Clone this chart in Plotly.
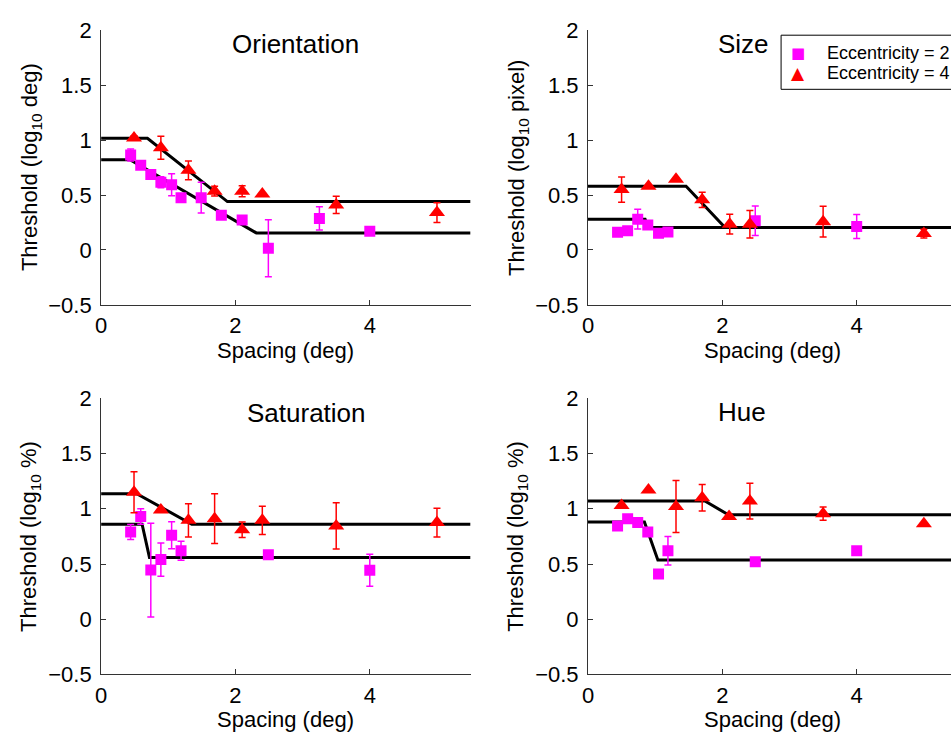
import plotly.graph_objects as go

# ---------------- data ----------------
# Orientation
or_x2 = [0.44, 0.59, 0.74, 0.89, 1.05, 1.19, 1.49, 1.79, 2.10, 2.49, 3.25, 4.0]
or_y2 = [0.865, 0.77, 0.687, 0.617, 0.594, 0.476, 0.476, 0.316, 0.272, 0.015, 0.287, 0.17]
or_e2 = [0.055, 0.0, 0.0, 0.05, 0.1, 0.03, 0.14, 0.035, 0.0, 0.26, 0.105, 0.0]
or_x4 = [0.49, 0.89, 1.30, 1.69, 2.10, 2.40, 3.50, 5.0]
or_y4 = [1.02, 0.93, 0.725, 0.535, 0.535, 0.51, 0.41, 0.34]
or_e4 = [0.02, 0.105, 0.085, 0.045, 0.05, 0.0, 0.078, 0.09]
or_fit2_x = [0, 0.43, 2.31, 5.5]
or_fit2_y = [0.822, 0.822, 0.155, 0.155]
or_fit4_x = [0, 0.69, 1.88, 5.5]
or_fit4_y = [1.017, 1.017, 0.44, 0.44]

# Size
sz_x2 = [0.44, 0.59, 0.74, 0.89, 1.05, 1.19, 2.49, 4.0]
sz_y2 = [0.16, 0.175, 0.28, 0.228, 0.152, 0.164, 0.266, 0.213]
sz_e2 = [0.0, 0.015, 0.09, 0.0, 0.0, 0.03, 0.135, 0.11]
sz_x4 = [0.50, 0.90, 1.31, 1.70, 2.11, 2.41, 3.50, 5.0]
sz_y4 = [0.55, 0.58, 0.643, 0.456, 0.234, 0.234, 0.257, 0.149]
sz_e4 = [0.115, 0.0, 0.0, 0.07, 0.09, 0.125, 0.14, 0.04]
sz_fit2_x = [0, 0.85, 0.9, 5.5]
sz_fit2_y = [0.28, 0.28, 0.204, 0.204]
sz_fit4_x = [0, 1.46, 2.04, 5.5]
sz_fit4_y = [0.58, 0.58, 0.204, 0.204]

# Saturation
sa_x2 = [0.44, 0.59, 0.74, 0.89, 1.05, 1.19, 2.49, 4.0]
sa_y2 = [0.79, 0.93, 0.445, 0.54, 0.76, 0.62, 0.583, 0.443]
sa_e2 = [0.068, 0.07, 0.425, 0.15, 0.122, 0.085, 0.0, 0.145]
sa_x4 = [0.49, 0.89, 1.30, 1.69, 2.10, 2.40, 3.50, 5.0]
sa_y4 = [1.15, 0.99, 0.895, 0.91, 0.81, 0.895, 0.845, 0.875]
sa_e4 = [0.185, 0.0, 0.15, 0.225, 0.07, 0.128, 0.21, 0.13]
sa_fit2_x = [0, 0.61, 0.72, 5.5]
sa_fit2_y = [0.86, 0.86, 0.56, 0.56]
sa_fit4_x = [0, 0.53, 1.35, 5.5]
sa_fit4_y = [1.137, 1.137, 0.86, 0.86]

# Hue
hu_x2 = [0.44, 0.59, 0.74, 0.89, 1.05, 1.19, 2.49, 4.0]
hu_y2 = [0.845, 0.91, 0.875, 0.79, 0.41, 0.62, 0.52, 0.62]
hu_e2 = [0.0, 0.0, 0.0, 0.0, 0.0, 0.13, 0.0, 0.0]
hu_x4 = [0.50, 0.90, 1.31, 1.70, 2.10, 2.41, 3.50, 5.0]
hu_y4 = [1.03, 1.17, 1.02, 1.10, 0.93, 1.07, 0.955, 0.865]
hu_e4 = [0.0, 0.0, 0.235, 0.12, 0.0, 0.162, 0.06, 0.0]
hu_fit2_x = [0, 0.84, 1.04, 5.5]
hu_fit2_y = [0.88, 0.88, 0.537, 0.537]
hu_fit4_x = [0, 1.74, 2.09, 5.5]
hu_fit4_y = [1.07, 1.07, 0.946, 0.946]

panel_titles = ["Orientation", "Size", "Saturation", "Hue"]
y_units = ["deg", "pixel", "%", "%"]
legend_names = ["Eccentricity = 2", "Eccentricity = 4"]
x_label = "Spacing (deg)"

panels = [
    (or_x2, or_y2, or_e2, or_x4, or_y4, or_e4, or_fit2_x, or_fit2_y, or_fit4_x, or_fit4_y),
    (sz_x2, sz_y2, sz_e2, sz_x4, sz_y4, sz_e4, sz_fit2_x, sz_fit2_y, sz_fit4_x, sz_fit4_y),
    (sa_x2, sa_y2, sa_e2, sa_x4, sa_y4, sa_e4, sa_fit2_x, sa_fit2_y, sa_fit4_x, sa_fit4_y),
    (hu_x2, hu_y2, hu_e2, hu_x4, hu_y4, hu_e4, hu_fit2_x, hu_fit2_y, hu_fit4_x, hu_fit4_y),
]

# ---------------- layout geometry ----------------
W, H = 951, 745
FONT = "Liberation Sans, Arial, Helvetica, sans-serif"
MAG = "#FF00FF"
RED = "#FF0000"
PXU = 67.6  # pixels per x unit

col_left = [95.7, 585.7]
row_px = [(18.9, 303.0), (399.7, 685.5)]


def yd(top, bottom):
    return [(H - bottom) / H, (H - top) / H]


def px(xp):
    return xp / W


def py(yp):
    return (H - yp) / H


fig = go.Figure()
annotations = []
title_cx = [291, 742, 302, 741]
title_cy = [33, 33, 415, 414]

for i, p in enumerate(panels):
    x2, y2, e2, x4, y4, e4, f2x, f2y, f4x, f4y = p
    r, c = divmod(i, 2)
    n = i + 1
    xa = "x" if n == 1 else f"x{n}"
    ya = "y" if n == 1 else f"y{n}"
    for fx, fy in ((f2x, f2y), (f4x, f4y)):
        fig.add_trace(go.Scatter(x=fx, y=fy, mode="lines",
                                 line=dict(color="black", width=3),
                                 showlegend=False, hoverinfo="skip",
                                 xaxis=xa, yaxis=ya))
    fig.add_trace(go.Scatter(
        x=x2, y=y2, mode="markers", name=legend_names[0],
        marker=dict(symbol="square", size=11, color=MAG),
        error_y=dict(type="data", array=e2, color=MAG, thickness=1.5, width=3.5),
        showlegend=False, xaxis=xa, yaxis=ya))
    fig.add_trace(go.Scatter(
        x=x4, y=y4, mode="markers", name=legend_names[1],
        marker=dict(symbol="triangle-up", size=14, color=RED),
        error_y=dict(type="data", array=e4, color=RED, thickness=1.5, width=3.5),
        showlegend=False, xaxis=xa, yaxis=ya))

    axis_common = dict(showline=True, linecolor="#333", linewidth=1, mirror=False,
                       ticks="inside", ticklen=5, tickcolor="#333", tickwidth=1,
                       showgrid=False, zeroline=False,
                       tickfont=dict(family=FONT, size=22, color="black"))
    xkey = "xaxis" if n == 1 else f"xaxis{n}"
    ykey = "yaxis" if n == 1 else f"yaxis{n}"
    left = col_left[c]
    right = min(left + 5.5 * PXU, W)
    xmax = (right - left) / PXU
    fig.layout[xkey] = dict(domain=[left / W, right / W], range=[0, xmax],
                            tickvals=[0, 2, 4], ticktext=["0", "2", "4"],
                            anchor=ya, ticklabelstandoff=1, **axis_common)
    fig.layout[ykey] = dict(domain=yd(*row_px[r]), range=[-0.5, 2],
                            tickvals=[-0.5, 0, 0.5, 1, 1.5, 2],
                            ticktext=["\u22120.5", "0", "0.5", "1", "1.5", "2"],
                            anchor=xa, ticklabelstandoff=4, **axis_common)

    annotations.append(dict(text=panel_titles[i], x=px(title_cx[i]), y=py(title_cy[i]),
                            xref="paper", yref="paper", showarrow=False,
                            xanchor="center", yanchor="middle",
                            font=dict(family=FONT, size=26, color="black")))
    annotations.append(dict(text=x_label, x=px(left + 186),
                            y=py(row_px[r][1] + 47),
                            xref="paper", yref="paper", showarrow=False,
                            xanchor="center", yanchor="middle",
                            font=dict(family=FONT, size=22, color="black")))
    annotations.append(dict(text=f"Threshold (log<sub>10</sub> {y_units[i]})",
                            x=px(left - 71),
                            y=py((row_px[r][0] + row_px[r][1]) / 2),
                            xref="paper", yref="paper", showarrow=False, textangle=-90,
                            xanchor="center", yanchor="middle",
                            font=dict(family=FONT, size=22, color="black")))

# ---- legend box (cut by the right edge of the figure, as in the original) ----
shapes = [dict(type="rect", xref="paper", yref="paper",
               x0=px(780), x1=px(1000), y0=py(80), y1=py(24),
               line=dict(color="black", width=1), fillcolor="white", layer="above")]
leg_rows = [(42, "\u25A0", MAG, 15), (63, "\u25B2", RED, 17)]
for (ry, glyph, col, gs), name in zip(leg_rows, legend_names):
    annotations.append(dict(text=glyph, x=px(797), y=py(ry), xref="paper", yref="paper",
                            showarrow=False, xanchor="center", yanchor="middle",
                            font=dict(family="DejaVu Sans", size=gs, color=col)))
    annotations.append(dict(text=name, x=px(824), y=py(ry), xref="paper", yref="paper",
                            showarrow=False, xanchor="left", yanchor="middle",
                            font=dict(family=FONT, size=18, color="black")))

fig.update_layout(
    width=W, height=H,
    margin=dict(l=0, r=0, t=0, b=0),
    paper_bgcolor="white", plot_bgcolor="white",
    annotations=annotations, shapes=shapes,
    showlegend=False,
)

fig.write_html("out.html", post_script="document.body.style.margin='0';")
